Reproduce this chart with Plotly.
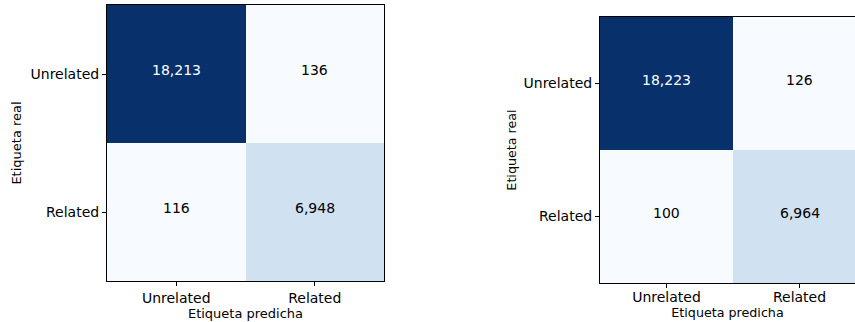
import plotly.graph_objects as go

# Confusion matrices for two classifiers (rows: true label, cols: predicted label)
classes = ["Unrelated", "Related"]
cm_left = [[18213, 136],
           [116, 6948]]
cm_right = [[18223, 126],
            [100, 6964]]

x_title = "Etiqueta predicha"
y_title = "Etiqueta real"

FONT = "DejaVu Sans"
W, H = 855, 322

# Blues-style colour ramp
blues = [[0.0, "#f7fbff"], [0.381, "#d0e1f2"], [1.0, "#08306b"]]

fig = go.Figure()

# (matrix, x axis, y axis, x domain, y domain, x range, x tick label standoff, title size)
panels = [
    (cm_left, "x", "y", [107 / W, 384 / W], [1 - 281 / H, 1 - 5 / H], [-0.5, 1.5], 0, 13),
    (cm_right, "x2", "y2", [600 / W, 1.0], [1 - 283 / H, 1 - 17 / H],
     [-0.5, -0.5 + 255 / 133], -3, 12.7),
]

idx = list(range(len(classes)))

for k, (cm, xa, ya, xdom, ydom, xrng, xstand, fs_title) in enumerate(panels):
    flat = [v for row in cm for v in row]
    fig.add_trace(go.Heatmap(
        z=cm, x=idx, y=idx, xaxis=xa, yaxis=ya,
        colorscale=blues, zmin=min(flat), zmax=max(flat),
        showscale=False, hoverinfo="skip", xgap=0, ygap=0,
    ))
    thresh = max(flat) / 2
    for i, row in enumerate(cm):
        for j, v in enumerate(row):
            fig.add_annotation(
                x=j, y=i, xref=xa, yref=ya, text=f"{v:,}", showarrow=False,
                font=dict(family=FONT, size=14, color="#ffffff" if v > thresh else "#000000"),
                yshift=4,
            )
    suffix = "" if k == 0 else "2"
    fig.layout["xaxis" + suffix] = dict(
        domain=xdom, range=xrng, tickvals=idx, ticktext=classes,
        showline=True, linecolor="#000000", linewidth=1, mirror=True,
        ticks="outside", ticklen=4, tickcolor="#000000", showgrid=False, zeroline=False,
        ticklabelstandoff=xstand,
        tickfont=dict(family=FONT, size=14, color="#000000"),
        title=dict(text=x_title, font=dict(family=FONT, size=fs_title, color="#000000"),
                   standoff=2 if k == 0 else 4),
        anchor="y" + suffix, fixedrange=True,
    )
    fig.layout["yaxis" + suffix] = dict(
        domain=ydom, range=[1.5, -0.5], tickvals=idx, ticktext=classes,
        showline=True, linecolor="#000000", linewidth=1, mirror=(k == 0),
        ticks="outside", ticklen=4, tickcolor="#000000", showgrid=False, zeroline=False,
        tickfont=dict(family=FONT, size=14, color="#000000"),
        title=dict(text=y_title, font=dict(family=FONT, size=fs_title, color="#000000"),
                   standoff=6 if k == 0 else 4),
        anchor="x" + suffix, fixedrange=True,
    )

fig.update_layout(
    width=W, height=H, margin=dict(l=0, r=0, t=0, b=0),
    paper_bgcolor="#ffffff", plot_bgcolor="#ffffff", showlegend=False,
)

fig.write_html("out.html", config={"displayModeBar": False})
